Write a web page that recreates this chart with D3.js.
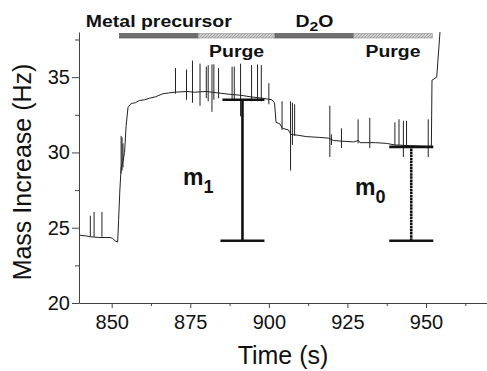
<!DOCTYPE html>
<html><head><meta charset="utf-8">
<script src="https://cdn.jsdelivr.net/npm/d3@7"></script>
<style>body{margin:0;background:#fff}svg{display:block}</style>
</head><body><svg id="c" width="487" height="371"></svg>
<script>
// ---- data ----
const xTicks = [850, 875, 900, 925, 950];
const xMinorTicks = [862.5, 887.5, 912.5, 937.5, 962.5];
const yTicks = [20, 25, 30, 35];
const yMinorTicks = [22.5, 27.5, 32.5, 37.5];

const traceTime = [839.9,842.0,843.2,846.0,849.5,850.2,851.3,851.9,852.2,852.6,853.0,853.6,854.1,854.6,855.2,856.2,857.5,858.8,860.5,862.0,864.0,866.3,868.0,870.0,874.0,876.3,880.0,884.0,888.0,891.0,894.0,898.0,901.0,901.8,902.3,903.5,904.3,906.2,907.0,909.0,912.0,916.0,919.0,920.5,923.0,927.0,928.5,929.0,934.0,937.5,940.0,945.0,950.0,951.7,951.9,953.4,954.45];
const traceValue = [24.5,24.45,24.4,24.35,24.35,24.3,24.1,24.05,25.5,27.5,29.0,29.4,30.0,31.8,33.0,33.25,33.3,33.45,33.5,33.6,33.7,33.9,33.95,34.0,34.05,34.0,34.05,33.95,33.85,33.8,33.7,33.6,33.5,33.3,32.0,31.9,31.6,31.5,31.2,31.15,31.05,31.0,30.95,30.8,30.75,30.7,30.8,30.65,30.65,30.6,30.5,30.45,30.4,30.35,34.8,35.0,38.0];

const spikeTime = [843.2,844.4,846.9,853.0,853.3,853.6,870.3,873.8,875.7,878.1,880.1,880.7,881.9,882.5,884.0,888.3,889.0,891.0,894.5,896.4,897.6,900.0,904.2,906.9,907.5,908.2,919.4,919.9,923.1,928.4,932.1,940.1,941.4,942.8,943.8,950.7];
const spikeLow  = [24.4,24.4,24.4,28.6,28.8,29.0,33.9,33.5,33.3,33.1,33.6,33.4,32.7,33.5,33.6,33.5,33.4,32.4,33.4,33.4,33.4,33.2,31.5,28.8,30.5,31.1,29.7,30.5,30.3,30.6,30.3,30.5,30.5,29.7,30.4,29.7];
const spikeHigh = [25.8,26.05,26.05,31.1,31.0,30.6,35.6,35.5,36.1,35.9,35.7,35.8,35.85,35.85,35.6,35.7,35.7,35.9,35.8,35.85,35.8,34.6,33.4,33.4,33.3,33.2,33.1,31.2,31.6,32.2,32.3,32.0,32.2,32.1,32.1,32.2];

const phaseEdges = [852.5, 877.5, 902, 927, 952];
const phaseKinds = ["dose", "purge", "dose", "purge"];
const phaseNames = ["Metal precursor", "Purge", "D2O", "Purge"];

const errTime = [891.6, 945.3];
const errLow = [24.13, 24.13];
const errHigh = [33.5, 30.37];
const errNames = ["1", "0"];

// ---- chart ----
const svg = d3.select("#c");
const x = d3.scaleLinear().domain([839.6, 969.4]).range([79, 487]);
const y = d3.scaleLinear().domain([20, 38]).range([303, 32]);
const font = "'Liberation Sans', Arial, sans-serif";

// clip
svg.append("clipPath").attr("id","clip").append("rect")
  .attr("x",79).attr("y",32).attr("width",408).attr("height",271);

// axes
svg.append("g").attr("transform","translate(0,303)")
  .call(d3.axisBottom(x).tickValues(xTicks).tickSize(5).tickSizeOuter(0).tickPadding(7).tickFormat(d3.format("d")));
svg.append("g").attr("transform","translate(0,303)")
  .call(d3.axisBottom(x).tickValues(xMinorTicks).tickSize(3).tickSizeOuter(0).tickFormat(""))
  .select(".domain").remove();
svg.append("g").attr("transform","translate(79,0)")
  .call(d3.axisLeft(y).tickValues(yTicks).tickSize(7).tickSizeOuter(0).tickPadding(2).tickFormat(d3.format("d")));
svg.append("g").attr("transform","translate(79,0)")
  .call(d3.axisLeft(y).tickValues(yMinorTicks).tickSize(4).tickSizeOuter(0).tickFormat(""))
  .select(".domain").remove();
svg.selectAll(".domain").attr("stroke","#444").attr("stroke-width",1);
svg.selectAll(".tick line").attr("stroke","#444");
svg.selectAll(".tick text").attr("font-family",font).attr("font-size",20).attr("fill","#111");

// axis titles
svg.append("text").attr("x",283).attr("y",364).attr("text-anchor","middle")
  .attr("font-family",font).attr("font-size",25).attr("fill","#111").text("Time (s)");
svg.append("text").attr("transform","translate(31,172) rotate(-90)").attr("text-anchor","middle")
  .attr("font-family",font).attr("font-size",25).attr("fill","#111").text("Mass Increase (Hz)");

// trace
const plot = svg.append("g").attr("clip-path","url(#clip)");
const pts = traceTime.map((t,i)=>[t, traceValue[i]]);
plot.append("path").datum(pts)
  .attr("d", d3.line().x(d=>x(d[0])).y(d=>y(d[1])))
  .attr("fill","none").attr("stroke","#222").attr("stroke-width",1);
plot.selectAll(".spike").data(spikeTime).join("line").attr("class","spike")
  .attr("x1",d=>x(d)).attr("x2",d=>x(d))
  .attr("y1",(d,i)=>y(spikeLow[i])).attr("y2",(d,i)=>y(spikeHigh[i]))
  .attr("stroke","#222").attr("stroke-width",1);

// error bars
const capHalf = 22;
errTime.forEach((t,i)=>{
  const g = svg.append("g").attr("stroke","#111").attr("stroke-width",2.6);
  g.append("line").attr("x1",x(t)).attr("x2",x(t)).attr("y1",y(errLow[i])).attr("y2",y(errHigh[i]))
    .attr("stroke-dasharray", i===1 ? "2.5,0.6" : null);
  g.append("line").attr("x1",x(t)-capHalf).attr("x2",x(t)+capHalf).attr("y1",y(errLow[i])).attr("y2",y(errLow[i]));
  g.append("line").attr("x1",x(t)-(i===0?20:22)).attr("x2",x(t)+capHalf).attr("y1",y(errHigh[i])).attr("y2",y(errHigh[i]));
});
// m labels
const mPos = [[183,185],[355,195]];
errNames.forEach((n,i)=>{
  const t = svg.append("text").attr("x",mPos[i][0]).attr("y",mPos[i][1])
    .attr("font-family",font).attr("font-weight","bold").attr("font-size",23).attr("fill","#111");
  t.append("tspan").text("m");
  t.append("tspan").attr("font-size",18).attr("dy",8).text(n);
});

// phase bar
const defs = svg.append("defs");
const pat = defs.append("pattern").attr("id","hatch").attr("width",3).attr("height",3)
  .attr("patternUnits","userSpaceOnUse");
pat.append("rect").attr("width",3).attr("height",3).attr("fill","#cfcfcf");
pat.append("path").attr("d","M0,3 L3,0").attr("stroke","#9a9a9a").attr("stroke-width",0.8);
phaseKinds.forEach((k,i)=>{
  svg.append("rect").attr("x",x(phaseEdges[i])).attr("y",33.5)
    .attr("width",x(phaseEdges[i+1])-x(phaseEdges[i])).attr("height",4.5)
    .attr("fill", k==="dose" ? "#6f6f6f" : "url(#hatch)")
    .attr("stroke", k==="dose" ? "#555" : "#999").attr("stroke-width",0.7);
});
// phase labels
phaseNames.forEach((n,i)=>{
  const cx = x((phaseEdges[i]+phaseEdges[i+1])/2);
  const dose = phaseKinds[i]==="dose";
  const t = svg.append("text").attr("x",cx).attr("y", dose ? 26.7 : 56.5).attr("text-anchor","middle")
    .attr("font-family",font).attr("font-weight","bold").attr("font-size",16).attr("fill","#111");
  if (n === "D2O") {
    t.append("tspan").text("D");
    t.append("tspan").attr("font-size",13).attr("dy",4).text("2");
    t.append("tspan").attr("dy",-4).text("O");
    t.attr("textLength",38).attr("lengthAdjust","spacingAndGlyphs");
  } else {
    t.text(n).attr("textLength", n==="Purge" ? 55 : 146).attr("lengthAdjust","spacingAndGlyphs");
  }
});
</script></body></html>
